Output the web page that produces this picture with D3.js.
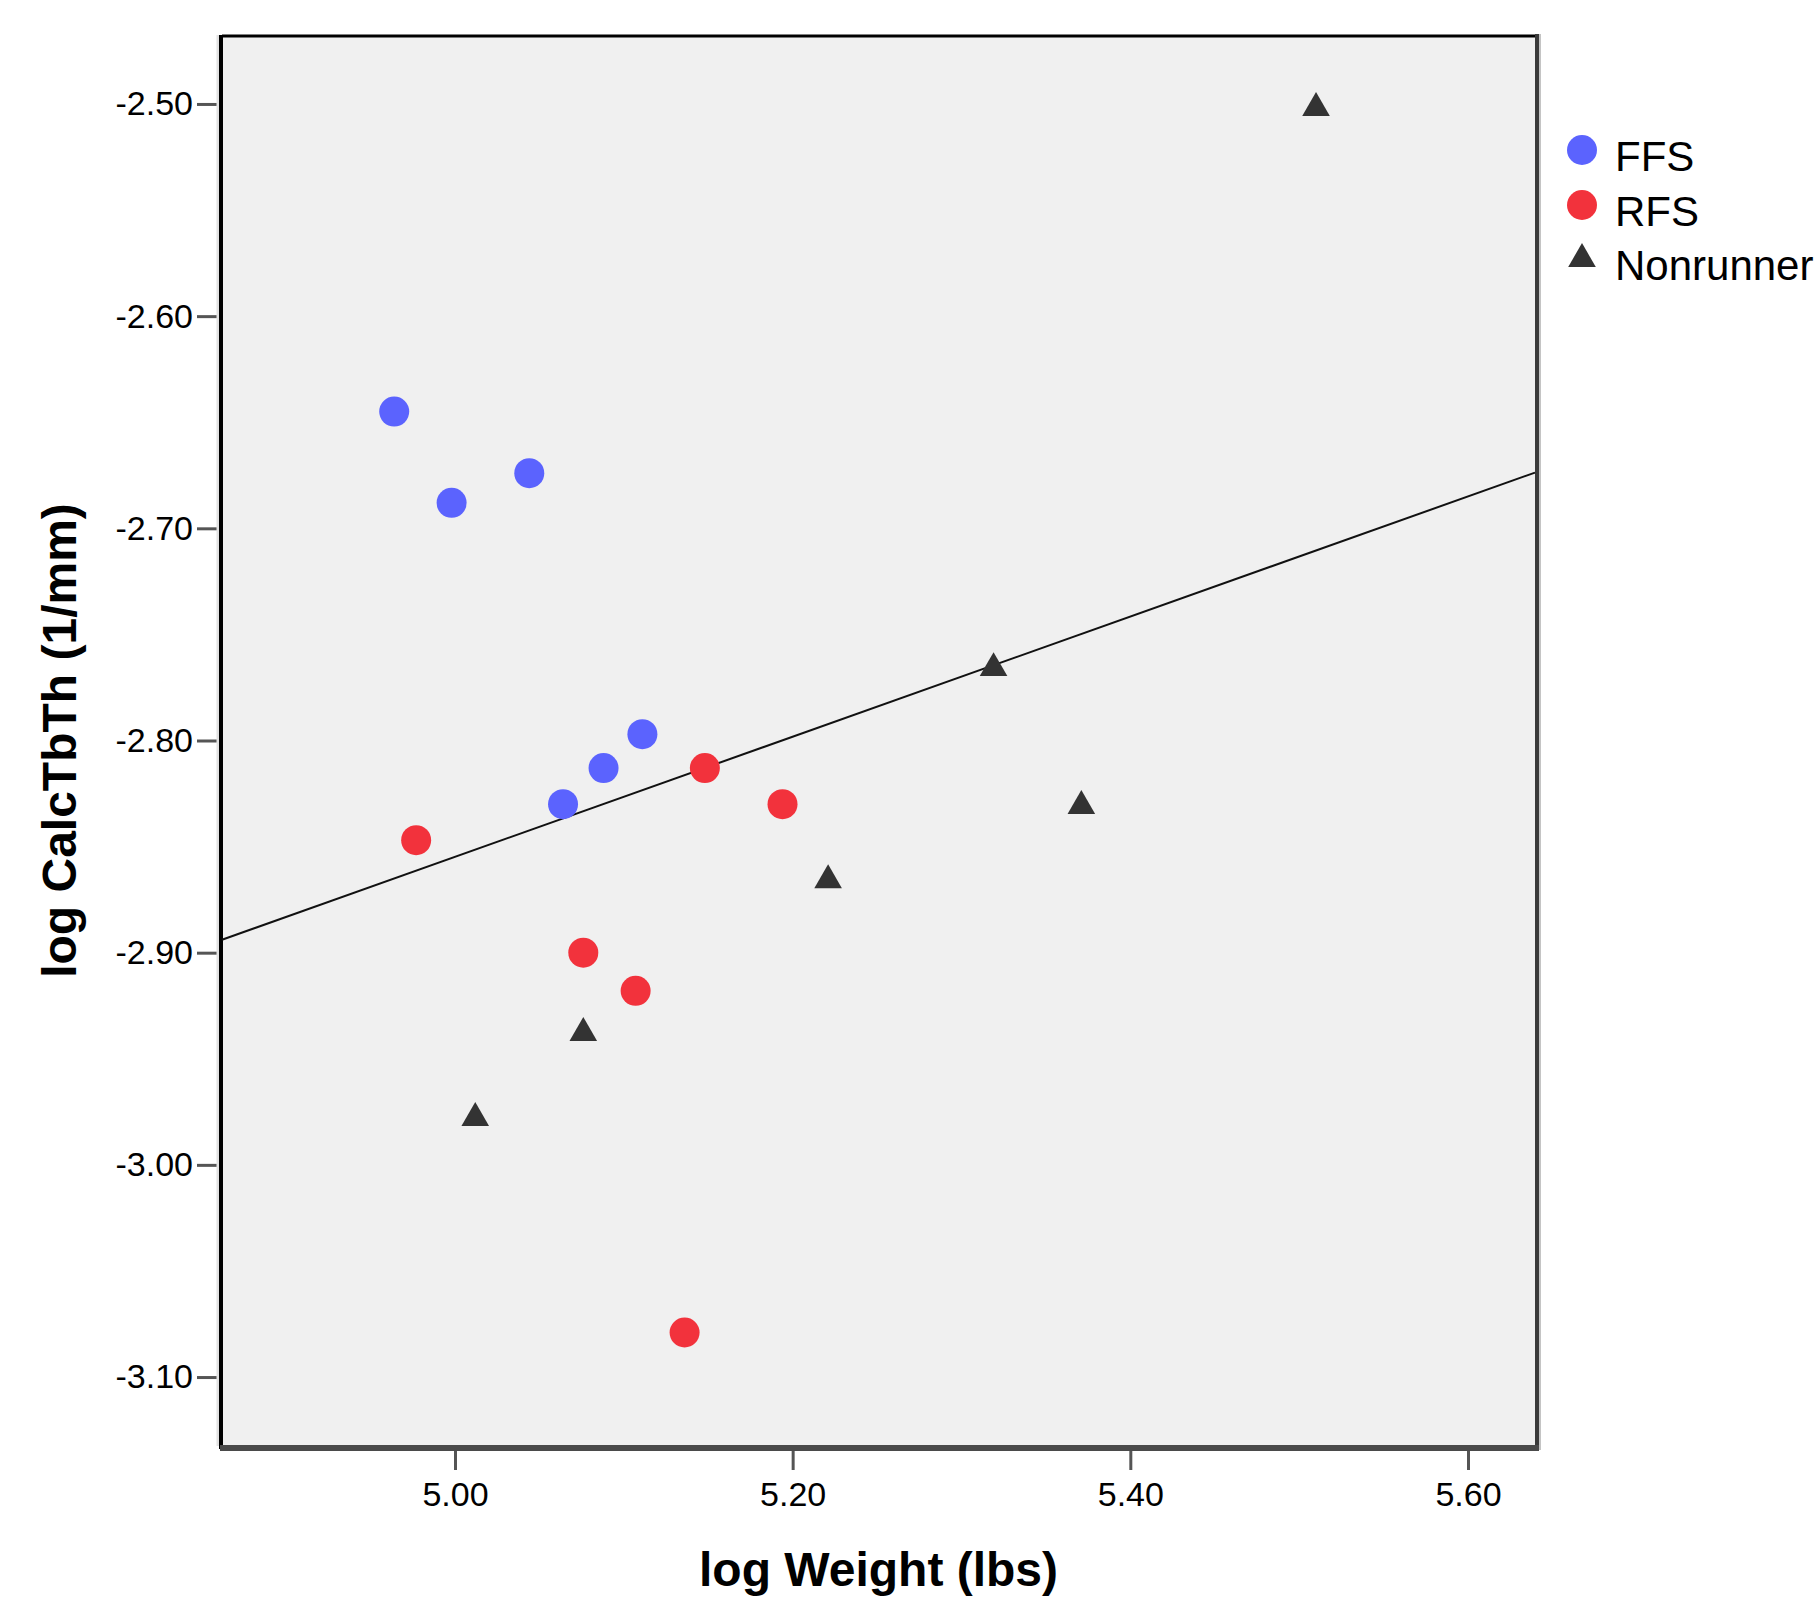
<!DOCTYPE html>
<html>
<head>
<meta charset="utf-8">
<script src="https://cdn.jsdelivr.net/npm/d3@7"></script>
<style>
  body { margin: 0; background: #fff; }
  text { font-family: "Liberation Sans", Arial, sans-serif; }
</style>
</head>
<body>
<svg id="chart"></svg>
<script>
// data
var ffsX = [4.964, 4.998, 5.044, 5.064, 5.088, 5.111];
var ffsY = [-2.645, -2.688, -2.674, -2.830, -2.813, -2.797];
var rfsX = [4.977, 5.148, 5.194, 5.076, 5.107, 5.136];
var rfsY = [-2.847, -2.813, -2.830, -2.900, -2.918, -3.079];
var nrX = [5.510, 5.319, 5.371, 5.221, 5.076, 5.012];
var nrY = [-2.500, -2.764, -2.829, -2.864, -2.936, -2.976];
var xTicks = [5.00, 5.20, 5.40, 5.60];
var yTicks = [-2.50, -2.60, -2.70, -2.80, -2.90, -3.00, -3.10];
var groups = ['FFS', 'RFS', 'Nonrunners'];
var colors = ['#5b63fe', '#f2323c', '#333333'];

var width = 1814, height = 1600;
var plotL = 222, plotR = 1535, plotT = 35, plotB = 1446;

var svg = d3.select('#chart')
    .attr('width', width)
    .attr('height', height);

var xScale = d3.scaleLinear().domain([4.862, 5.6397]).range([plotL, plotR]);
var yScale = d3.scaleLinear().domain([-3.1325, -2.4675]).range([plotB, plotT]);

// plot background
svg.append('rect')
    .attr('x', plotL).attr('y', plotT)
    .attr('width', plotR - plotL).attr('height', plotB - plotT)
    .attr('fill', '#f0f0f0');

// axes, plain hyphen for the minus sign like the original
var fmt = function (d) { return d3.format('.2f')(d).replace('\u2212', '-'); };
var yAxis = svg.append('g')
    .attr('transform', 'translate(' + (plotL - 2) + ',0)')
    .call(d3.axisLeft(yScale).tickValues(yTicks).tickFormat(fmt).tickSize(23).tickPadding(4));
var xAxis = svg.append('g')
    .attr('transform', 'translate(0,' + (plotB + 2) + ')')
    .call(d3.axisBottom(xScale).tickValues(xTicks).tickFormat(fmt).tickSize(22).tickPadding(12));

[yAxis, xAxis].forEach(function (ax) {
    ax.select('.domain').remove();
    ax.selectAll('.tick line').attr('stroke', '#555').attr('stroke-width', 3);
    ax.selectAll('.tick text')
        .attr('fill', '#000')
        .style('font-size', '34px')
        .style('font-family', '"Liberation Sans", Arial, sans-serif');
});

// frame
svg.append('line').attr('x1', plotL).attr('x2', plotR).attr('y1', plotT + 1).attr('y2', plotT + 1)
    .attr('stroke', '#000').attr('stroke-width', 3);
svg.append('line').attr('x1', plotL - 4).attr('x2', plotL - 4).attr('y1', plotT).attr('y2', plotB)
    .attr('stroke', '#e2e2e2').attr('stroke-width', 3);
svg.append('line').attr('x1', plotL - 1).attr('x2', plotL - 1).attr('y1', plotT).attr('y2', plotB + 3)
    .attr('stroke', '#000').attr('stroke-width', 4);
svg.append('line').attr('x1', plotR + 2).attr('x2', plotR + 2).attr('y1', plotT - 1).attr('y2', plotB + 4)
    .attr('stroke', '#3a3a3a').attr('stroke-width', 4);
svg.append('line').attr('x1', plotR + 5).attr('x2', plotR + 5).attr('y1', plotT - 1).attr('y2', plotB + 4)
    .attr('stroke', '#c4c4c4').attr('stroke-width', 2);
svg.append('line').attr('x1', plotL - 2).attr('x2', plotR + 4).attr('y1', plotB + 2).attr('y2', plotB + 2)
    .attr('stroke', '#4a4a4a').attr('stroke-width', 6);

// fit line (least squares over all points)
var allX = ffsX.concat(rfsX, nrX);
var allY = ffsY.concat(rfsY, nrY);
var mx = d3.mean(allX), my = d3.mean(allY);
var sxy = d3.sum(allX, function (d, i) { return (d - mx) * (allY[i] - my); });
var sxx = d3.sum(allX, function (d) { return (d - mx) * (d - mx); });
var slope = sxy / sxx;
var x0 = xScale.domain()[0], x1 = xScale.domain()[1];

svg.append('line')
    .attr('x1', xScale(x0)).attr('y1', yScale(my + slope * (x0 - mx)))
    .attr('x2', xScale(x1)).attr('y2', yScale(my + slope * (x1 - mx)))
    .attr('stroke', '#111').attr('stroke-width', 2);

// points
var circle = d3.symbol().type(d3.symbolCircle).size(Math.PI * 15 * 15);
var triSize = 330;
var tri = d3.symbol().type(d3.symbolTriangle).size(triSize);
// d3 centres the triangle on its centroid, shift so the middle of its height sits on the value
var triShift = Math.sqrt(triSize / (3 * Math.sqrt(3))) / 2;

function drawSeries(xs, ys, sym, color, dy) {
    svg.append('g').selectAll('path')
        .data(xs)
        .enter()
        .append('path')
        .attr('d', sym)
        .attr('fill', color)
        .attr('transform', function (d, i) {
            return 'translate(' + xScale(d) + ',' + (yScale(ys[i]) + dy) + ')';
        });
}
drawSeries(ffsX, ffsY, circle, colors[0], 0);
drawSeries(rfsX, rfsY, circle, colors[1], 0);
drawSeries(nrX, nrY, tri, colors[2], triShift);

// legend
var legendY = [150, 205, 259];
var legend = svg.append('g').selectAll('g')
    .data(groups)
    .enter()
    .append('g')
    .attr('transform', function (d, i) { return 'translate(1582,' + legendY[i] + ')'; });

legend.append('path')
    .attr('d', function (d, i) { return i < 2 ? circle() : tri(); })
    .attr('fill', function (d, i) { return colors[i]; });

legend.append('text')
    .attr('x', 33)
    .attr('y', 21)
    .style('font-size', '42px')
    .text(function (d) { return d; });

// axis titles
svg.append('text')
    .attr('x', (plotL + plotR) / 2)
    .attr('y', 1586)
    .attr('text-anchor', 'middle')
    .style('font-size', '48px')
    .style('font-weight', 'bold')
    .text('log Weight (lbs)');

svg.append('text')
    .attr('transform', 'translate(76,' + (plotT + plotB) / 2 + ') rotate(-90)')
    .attr('text-anchor', 'middle')
    .style('font-size', '48px')
    .style('font-weight', 'bold')
    .text('log CalcTbTh (1/mm)');
</script>
</body>
</html>
